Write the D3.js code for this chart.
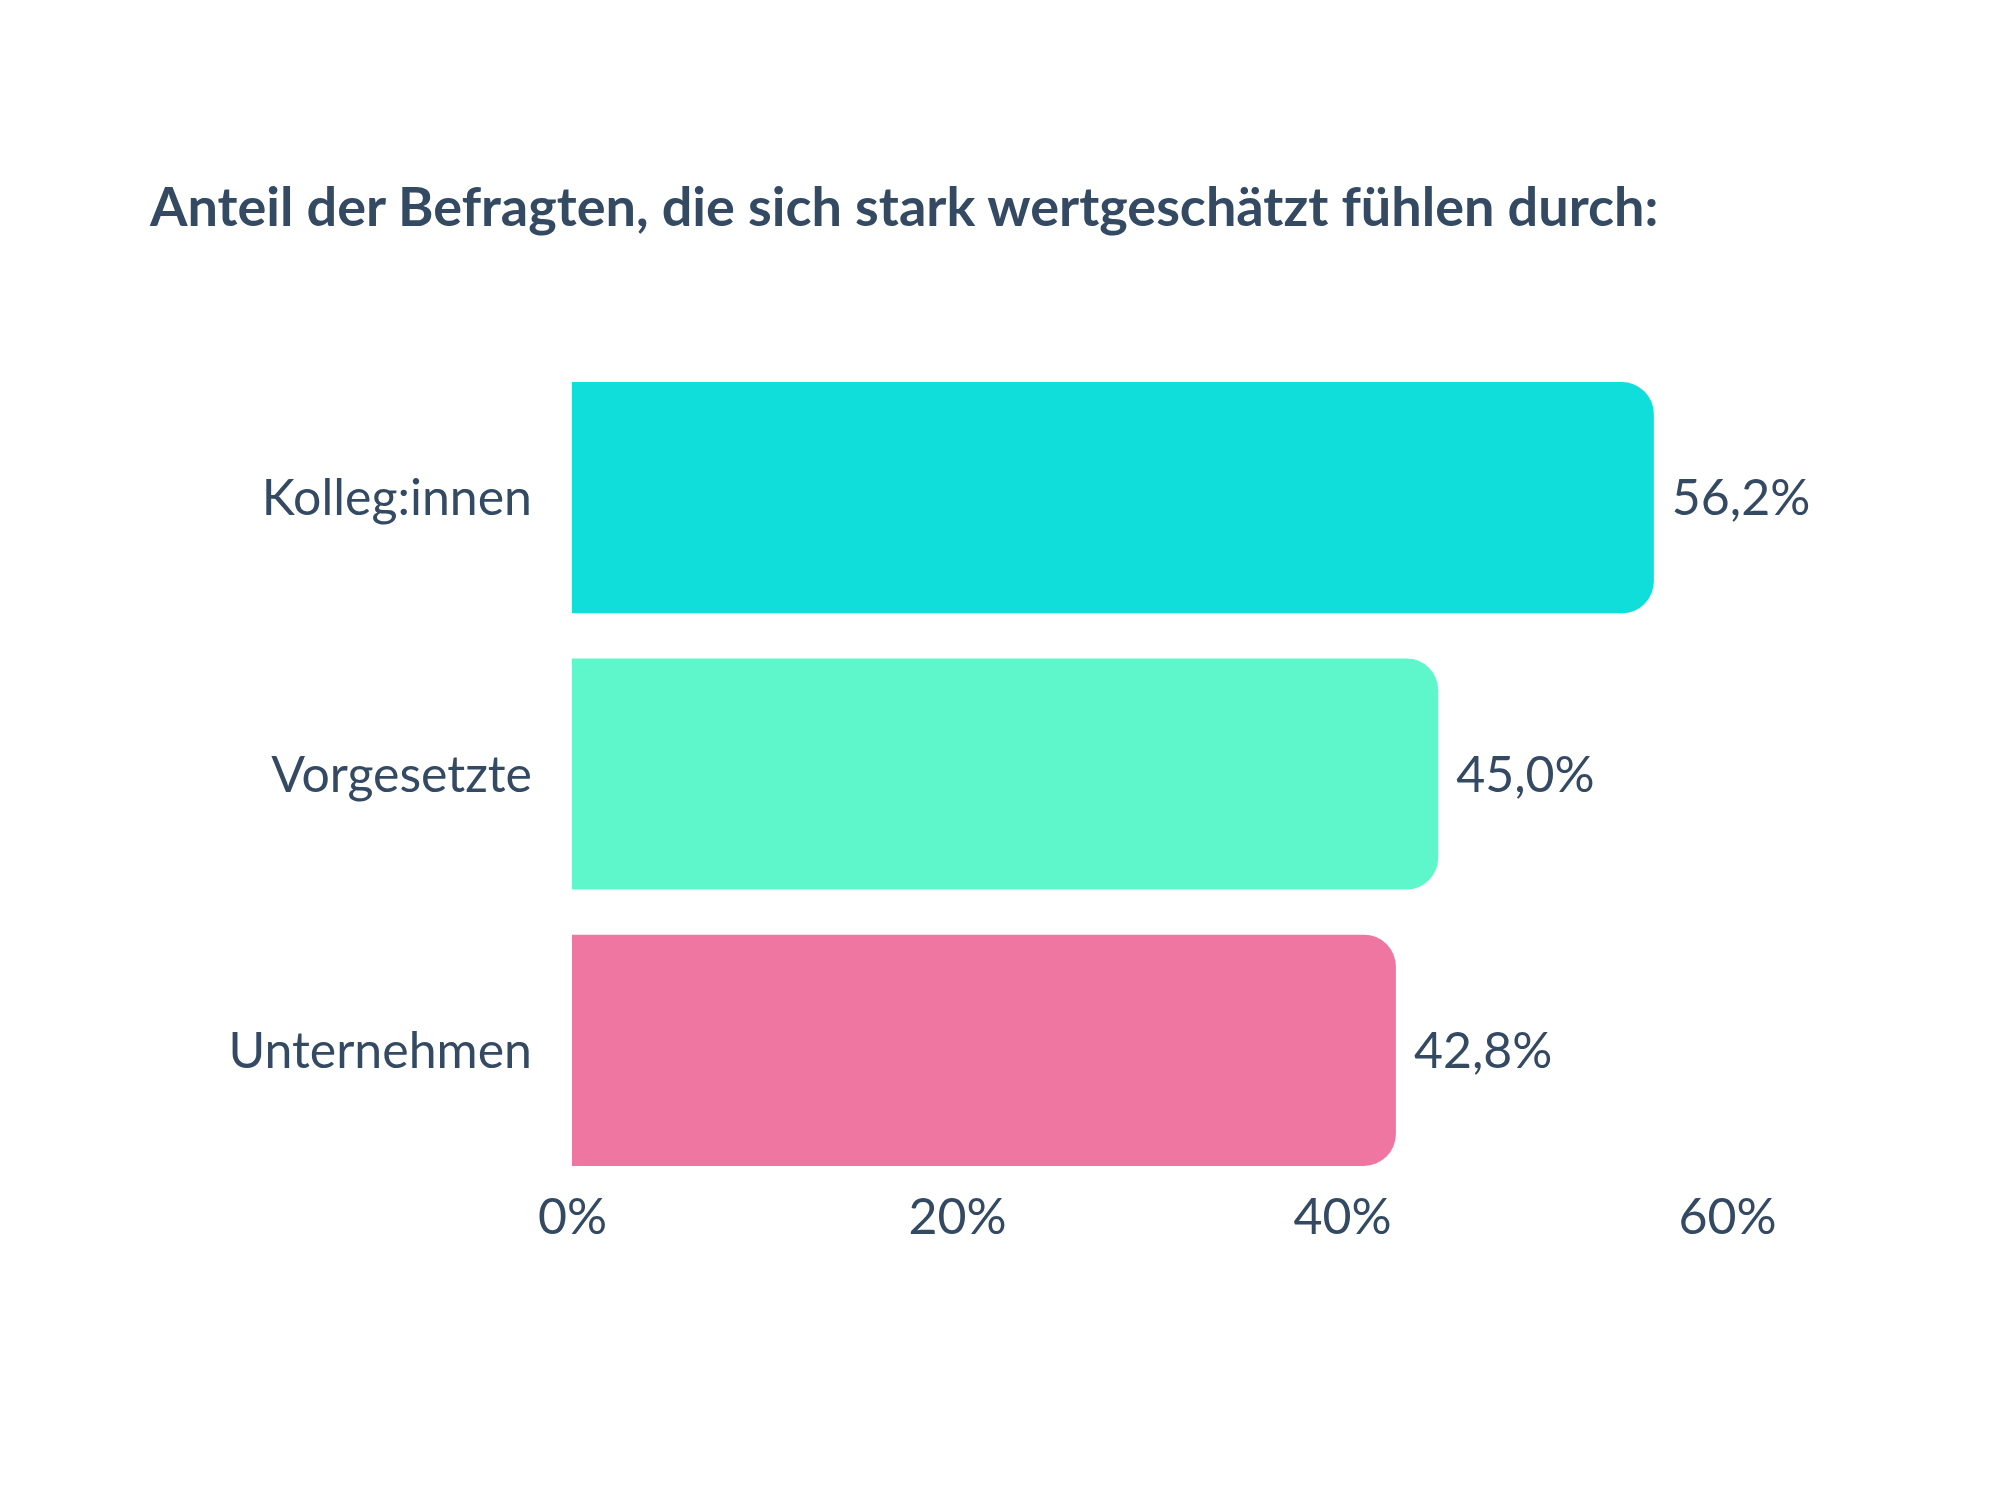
<!DOCTYPE html><html><head><meta charset="utf-8"><script src="https://cdn.jsdelivr.net/npm/d3@7"></script>
<style>body{margin:0;background:#fff}</style></head><body><script>
const categories=["Kolleg:innen","Vorgesetzte","Unternehmen"];
const values=[56.2,45.0,42.8];
const colors=["#10DEDB","#5DF7CB","#EE76A0"];
const ticks=[0,20,40,60];
const W=2000,H=1500,txt="#344A63",font="Lato, 'Open Sans', sans-serif";
const svg=d3.select("body").append("svg").attr("width",W).attr("height",H);
svg.append("text").attr("x",150).attr("y",226).attr("font-family",font).attr("font-weight",700).attr("font-size",54).attr("fill",txt)
 .text("Anteil der Befragten, die sich stark wertgeschätzt fühlen durch:");
const x=d3.scaleLinear().domain([0,60]).range([572,1727]);
const y=d3.scaleBand().domain(categories).range([360,1188]).paddingInner(0.163).paddingOuter(0.08);
const r=32;
categories.forEach((c,i)=>{
 const x0=x(0),x1=x(values[i]),y0=y(c),h=y.bandwidth();
 svg.append("path").attr("fill",colors[i]).attr("d",`M${x0},${y0}H${x1-r}A${r},${r} 0 0 1 ${x1},${y0+r}V${y0+h-r}A${r},${r} 0 0 1 ${x1-r},${y0+h}H${x0}Z`);
 svg.append("text").attr("x",x1+18).attr("y",y0+h/2).attr("dy","0.35em").attr("font-family",font).attr("font-size",50).attr("fill",txt).text(values[i].toFixed(1).replace(".",",")+"%");
 svg.append("text").attr("x",532).attr("y",y0+h/2).attr("dy","0.35em").attr("text-anchor","end").attr("font-family",font).attr("font-size",50).attr("fill",txt).text(c);
});
const ax=svg.append("g").attr("transform","translate(0,1195)").call(d3.axisBottom(x).tickValues(ticks).tickFormat(d=>d+"%").tickSize(0));
ax.select(".domain").remove();
ax.selectAll("text").attr("font-family",font).attr("font-size",50).attr("fill",txt);
</script></body></html>
